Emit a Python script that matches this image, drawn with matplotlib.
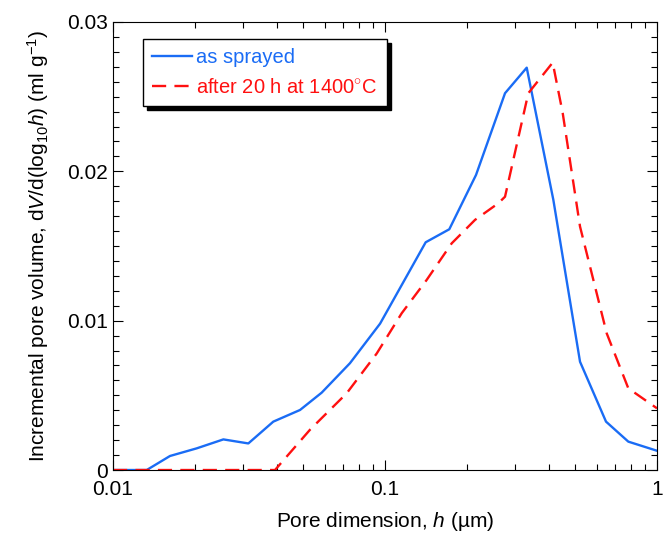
import matplotlib
matplotlib.use("Agg")
import matplotlib.pyplot as plt
from matplotlib.ticker import FixedLocator, MultipleLocator, LogLocator, NullFormatter

plt.rcParams['font.family'] = ['Liberation Sans', 'DejaVu Sans']
plt.rcParams['mathtext.fontset'] = 'custom'
plt.rcParams['mathtext.rm'] = 'Liberation Sans'
plt.rcParams['mathtext.it'] = 'Liberation Sans:italic'

# as sprayed
h_sprayed = [0.01, 0.0133, 0.0162, 0.0203, 0.02545, 0.03144, 0.03884, 0.0487, 0.0585,
             0.0743, 0.0959, 0.1411, 0.1723, 0.2161, 0.2762, 0.3319, 0.4157, 0.5212,
             0.6494, 0.7844, 1.0]
v_sprayed = [0, 0, 0.00094, 0.00145, 0.00205, 0.00178, 0.00324, 0.00402, 0.00518,
             0.00715, 0.0098, 0.01525, 0.01612, 0.01976, 0.02523, 0.02694, 0.0181, 0.00725,
             0.00324, 0.0019, 0.00129]

# after 20 h at 1400 C
h_heated = [0.01, 0.0394, 0.0530, 0.0723, 0.0932, 0.1152, 0.1423, 0.1759, 0.2143,
            0.2609, 0.2762, 0.3364, 0.4135, 0.4501, 0.5212, 0.6533, 0.7844, 1.0]
v_heated = [0, 0, 0.0027, 0.00514, 0.0078, 0.0105, 0.01273, 0.01518, 0.01675,
            0.01786, 0.0183, 0.02523, 0.02728, 0.0239, 0.0163, 0.00915, 0.00547, 0.00413]

fig = plt.figure(figsize=(6.7, 5.36), dpi=100)
ax = fig.add_axes([0.1687, 0.1231, 0.8119, 0.8359])

ax.plot(h_sprayed, v_sprayed, color='#1a6cf5', lw=1.7, label='as sprayed')
ax.plot(h_heated, v_heated, color='#ff1010', lw=1.7, dashes=(6, 3.5),
        label='after 20 h at 1400$^{\\circ}$C')

ax.set_xscale('log')
ax.set_xlim(0.01, 1)
ax.set_ylim(0, 0.03)

ax.xaxis.set_major_locator(FixedLocator([0.01, 0.1, 1]))
ax.set_xticklabels(['0.01', '0.1', '1'])
ax.xaxis.set_minor_locator(LogLocator(base=10, subs=range(2, 10)))
ax.xaxis.set_minor_formatter(NullFormatter())

ax.yaxis.set_major_locator(FixedLocator([0, 0.01, 0.02, 0.03]))
ax.set_yticklabels(['0', '0.01', '0.02', '0.03'])
ax.yaxis.set_minor_locator(MultipleLocator(0.001))

ax.tick_params(which='both', direction='in', top=True, right=True, labelsize=15, colors='black')
ax.tick_params(which='major', length=7, width=0.8)
ax.tick_params(which='minor', length=4, width=0.8)
ax.tick_params(axis='x', pad=7)

ax.set_xlabel('Pore dimension, $\\it{h}$ (\u00b5m)', fontsize=15, labelpad=8)
ax.set_ylabel('Incremental pore volume, d$\\it{V}$/d(log$_{10}$$\\it{h}$) (ml g$^{-1}$)',
              fontsize=15, labelpad=12)

leg = ax.legend(loc='upper left', bbox_to_anchor=(0.055, 0.962), borderaxespad=0,
                fontsize=14.5, frameon=True, fancybox=False, edgecolor='black',
                labelcolor='linecolor', handlelength=2.0, handletextpad=0.2,
                borderpad=0.45, labelspacing=0.55,
                shadow={'color': 'black', 'alpha': 1.0, 'ox': 3, 'oy': -3})
leg.get_frame().set_linewidth(1.0)

fig.savefig('out.png', dpi=100)
